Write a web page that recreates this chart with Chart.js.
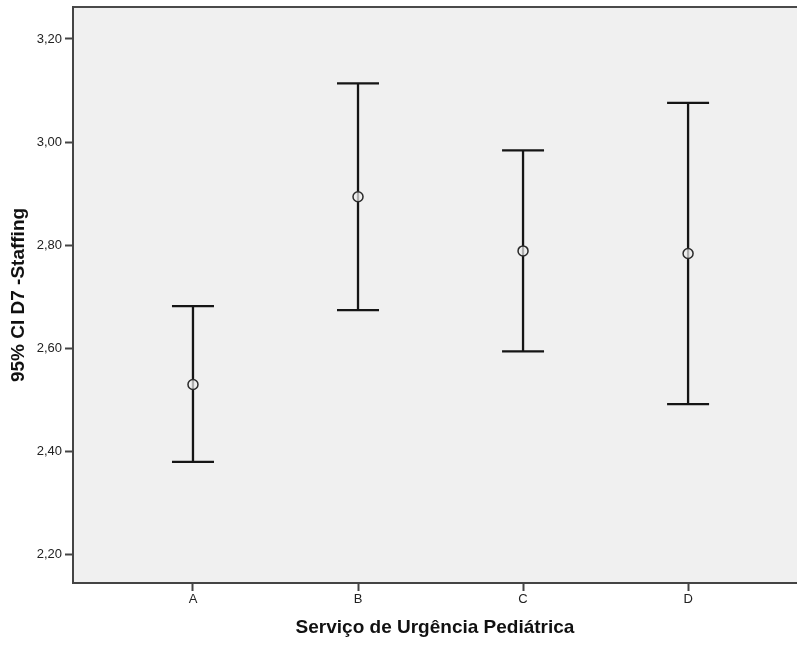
<!DOCTYPE html>
<html>
<head>
<meta charset="utf-8">
<script src="https://cdn.jsdelivr.net/npm/chart.js@4.4.1/dist/chart.umd.min.js"></script>
<style>
  body { margin: 0; background: #fff; }
  canvas { display: block; }
</style>
</head>
<body>
<canvas id="myChart" width="797" height="648"></canvas>
<script>
// gruppi e intervalli di confianza al 95%
var categorias = ['A', 'B', 'C', 'D'];
var medias = [2.530, 2.894, 2.789, 2.784];
var limite_inferior = [2.380, 2.674, 2.594, 2.492];
var limite_superior = [2.682, 3.114, 2.984, 3.076];
var ticks_y = [2.2, 2.4, 2.6, 2.8, 3.0, 3.2];

var pontos = [];
for (var i = 0; i < categorias.length; i++) {
    pontos.push({ x: i + 1, y: medias[i] });
}

// sfondo grigio dell'area del grafico + bordo superiore
var sfondo = {
    id: 'sfondo',
    beforeDraw: function(chart) {
        var a = chart.chartArea;
        var ctx = chart.ctx;
        ctx.save();
        ctx.fillStyle = '#f0f0f0';
        ctx.fillRect(a.left, a.top, a.right - a.left, a.bottom - a.top);
        ctx.strokeStyle = '#4a4a4a';
        ctx.lineWidth = 2;
        ctx.beginPath();
        ctx.moveTo(a.left, a.top);
        ctx.lineTo(a.right, a.top);
        ctx.stroke();
        ctx.restore();
    }
};

// barre di errore disegnate con le scale del grafico
var barre_errore = {
    id: 'barre_errore',
    beforeDatasetsDraw: function(chart) {
        var xs = chart.scales.x;
        var ys = chart.scales.y;
        var ctx = chart.ctx;
        ctx.save();
        ctx.strokeStyle = '#151515';
        ctx.lineWidth = 2.3;
        for (var i = 0; i < categorias.length; i++) {
            var x = xs.getPixelForValue(i + 1);
            var yu = ys.getPixelForValue(limite_superior[i]);
            var yl = ys.getPixelForValue(limite_inferior[i]);
            ctx.beginPath();
            ctx.moveTo(x, yu);
            ctx.lineTo(x, yl);
            ctx.moveTo(x - 21, yu);
            ctx.lineTo(x + 21, yu);
            ctx.moveTo(x - 21, yl);
            ctx.lineTo(x + 21, yl);
            ctx.stroke();
        }
        ctx.restore();
    }
};

var ctx = document.getElementById('myChart').getContext('2d');

var myChart = new Chart(ctx, {
    type: 'scatter',
    data: {
        datasets: [{
            label: 'Média',
            data: pontos,
            pointStyle: 'circle',
            pointRadius: 5,
            pointBorderWidth: 1.5,
            pointBorderColor: '#2a2a2a',
            pointBackgroundColor: 'rgba(240, 240, 240, 0.7)'
        }]
    },
    options: {
        responsive: false,
        animation: false,
        layout: {
            autoPadding: false,
            padding: { top: 7, right: 0, bottom: 0, left: 0 }
        },
        plugins: {
            legend: { display: false },
            tooltip: { enabled: false }
        },
        scales: {
            x: {
                type: 'linear',
                min: 0.273,
                max: 4.66,
                afterBuildTicks: function(scale) {
                    scale.ticks = categorias.map(function(c, i) { return { value: i + 1 }; });
                },
                afterFit: function(scale) {
                    scale.height = 65;
                    scale.paddingLeft = 0;
                    scale.paddingRight = 0;
                },
                grid: {
                    drawOnChartArea: false,
                    tickLength: 8,
                    tickColor: '#444',
                    tickWidth: 2
                },
                border: { display: true, color: '#444', width: 2 },
                ticks: {
                    autoSkip: false,
                    maxRotation: 0,
                    padding: 1,
                    color: '#222',
                    font: { family: 'Liberation Sans', size: 13 },
                    callback: function(value) { return categorias[value - 1]; }
                },
                title: {
                    display: true,
                    text: 'Serviço de Urgência Pediátrica',
                    color: '#111',
                    font: { family: 'Liberation Sans', size: 19, weight: 'bold' },
                    padding: { top: 0, bottom: 9 }
                }
            },
            y: {
                min: 2.145,
                max: 3.262,
                afterBuildTicks: function(scale) {
                    scale.ticks = ticks_y.map(function(v) { return { value: v }; });
                },
                afterFit: function(scale) {
                    scale.width = 73;
                    scale.paddingTop = 0;
                    scale.paddingBottom = 0;
                },
                grid: {
                    drawOnChartArea: false,
                    tickLength: 8,
                    tickColor: '#444',
                    tickWidth: 2
                },
                border: { display: true, color: '#444', width: 2 },
                ticks: {
                    padding: 3,
                    color: '#222',
                    font: { family: 'Liberation Sans', size: 13 },
                    callback: function(value) { return value.toFixed(2).replace('.', ','); }
                },
                title: {
                    display: true,
                    text: '95% CI D7 -Staffing',
                    color: '#111',
                    font: { family: 'Liberation Sans', size: 19, weight: 'bold' },
                    padding: { top: 7, bottom: 0 }
                }
            }
        }
    },
    plugins: [sfondo, barre_errore]
});
</script>
</body>
</html>
